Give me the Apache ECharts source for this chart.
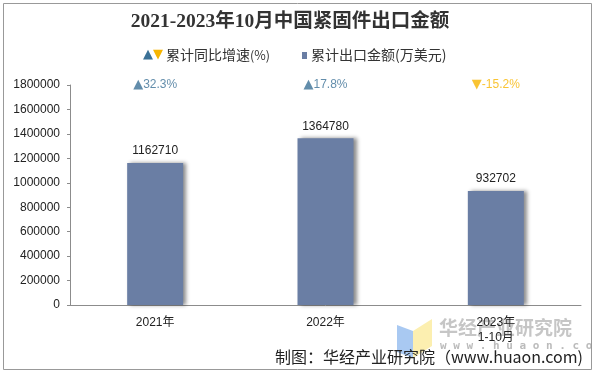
<!DOCTYPE html>
<html><head><meta charset="utf-8">
<script src="https://cdn.jsdelivr.net/npm/echarts@6/dist/echarts.min.js"></script>
<style>html,body{margin:0;padding:0;background:#fff}#c{width:596px;height:373px}</style>
</head><body><div id="c"></div>
<script>
var categories = ['2021年', '2022年', '2023年\n1-10月'];
var exportValues = [1162710, 1364780, 932702];
var growthRates = [32.3, 17.8, -15.2];
var yTicks = {min: 0, max: 1800000, interval: 200000};

var chart = echarts.init(document.getElementById('c'));
var up = '#3b7196', down = '#f7b500';
var growthData = growthRates.map(function(g){ return yTicks.max; });
chart.setOption({
  animation: false,
  grid: {left: 70, right: 15, top: 85, bottom: 68},
  xAxis: {
    type: 'category', data: categories,
    axisLine: {lineStyle: {color: '#8c8c8c'}},
    axisTick: {lineStyle: {color: '#8c8c8c'}, length: 4},
    axisLabel: {color: '#222', fontSize: 12, fontFamily: 'Liberation Sans, Noto Sans CJK SC', margin: 10, lineHeight: 15}
  },
  yAxis: {
    type: 'value', min: yTicks.min, max: yTicks.max, interval: yTicks.interval,
    axisLine: {show: true, lineStyle: {color: '#8c8c8c'}},
    axisTick: {show: true, lineStyle: {color: '#8c8c8c'}, length: 3},
    splitLine: {show: false},
    axisLabel: {color: '#222', fontSize: 12, fontFamily: 'Liberation Sans', margin: 10, formatter: function(v){ return String(v); }}
  },
  series: [{
    name: '累计出口金额(万美元)', type: 'bar', data: exportValues, barWidth: 56,
    itemStyle: {color: '#6a7ea4', shadowColor: 'rgba(0,0,0,0.45)', shadowBlur: 4, shadowOffsetX: 3, shadowOffsetY: 0},
    label: {show: true, position: 'top', color: '#222', fontSize: 12, fontFamily: 'Liberation Sans', distance: 6}
  }, {
    name: 'growth', type: 'scatter', data: growthData, symbolSize: 0, silent: true,
    label: {show: true, position: 'inside', offset: [0, 0],
      formatter: function(p){ var g = growthRates[p.dataIndex]; return '{t|' + (g >= 0 ? '▲' : '▼') + '}{v|' + g.toFixed(1) + '%}'; },
      rich: {
        t: {fontSize: 13, fontFamily: 'DejaVu Sans', color: 'inherit'},
        v: {fontSize: 12, fontFamily: 'Liberation Sans', color: 'inherit'}
      },
      color: 'inherit'
    },
    itemStyle: {color: function(p){ return growthRates[p.dataIndex] >= 0 ? up : down; }}
  }],
  graphic: [
    {type: 'rect', shape: {x: 3.5, y: 3.5, width: 588, height: 366}, style: {fill: 'none', stroke: '#999', lineWidth: 1}, z: -1},
    {type: 'text', x: 290, y: 22, style: {text: '2021-2023年10月中国紧固件出口金额', fontSize: 19.5, fontWeight: 'bold', fontFamily: 'Liberation Serif, Noto Sans CJK SC', fill: '#333', align: 'center', verticalAlign: 'middle'}},
    {type: 'text', x: 143, y: 55, style: {text: '{u|▲}{d|▼}{t|累计同比增速}{p|(%)}', verticalAlign: 'middle', rich: {
      u: {fill: up, fontSize: 13, fontFamily: 'DejaVu Sans'}, d: {fill: down, fontSize: 13, fontFamily: 'DejaVu Sans'},
      t: {fill: '#333', fontSize: 14, fontFamily: 'Noto Sans CJK SC', padding: [0, 0, 0, 3]},
      p: {fill: '#333', fontSize: 12.5, fontFamily: 'Noto Sans CJK SC'}}}},
    {type: 'rect', shape: {x: 302, y: 52, width: 5, height: 7}, style: {fill: '#6a7ea4'}},
    {type: 'text', x: 311, y: 55, style: {text: '累计出口金额(万美元)', fontSize: 14, fontFamily: 'Noto Sans CJK SC', fill: '#333', verticalAlign: 'middle'}},
    {type: 'polygon', shape: {points: [[397,325],[413,331],[413,358],[397,352]]}, style: {fill: '#a9c9f2'}, z: 0},
    {type: 'polygon', shape: {points: [[413,331],[432,319],[432,346],[413,358]]}, style: {fill: '#fcefb0'}, z: 0},
    {type: 'text', x: 439, y: 328, style: {text: '华经产业研究院', fontSize: 19, fontWeight: 'bold', fontFamily: 'Noto Sans CJK SC', fill: 'rgba(160,160,160,0.6)', verticalAlign: 'middle'}, z: 0},
    {type: 'text', x: 440, y: 346, style: {text: 'w w w . h u a o n . c o m', fontSize: 11, fontWeight: 'bold', fontFamily: 'DejaVu Sans Mono', fill: 'rgba(150,150,150,0.65)', verticalAlign: 'middle'}, z: 0},
    {type: 'text', x: 583, y: 357, style: {text: '制图：华经产业研究院（www.huaon.com)', fontSize: 16, fontFamily: 'Noto Sans CJK SC', fill: '#222', align: 'right', verticalAlign: 'middle'}, z: 10}
  ]
});
</script></body></html>
